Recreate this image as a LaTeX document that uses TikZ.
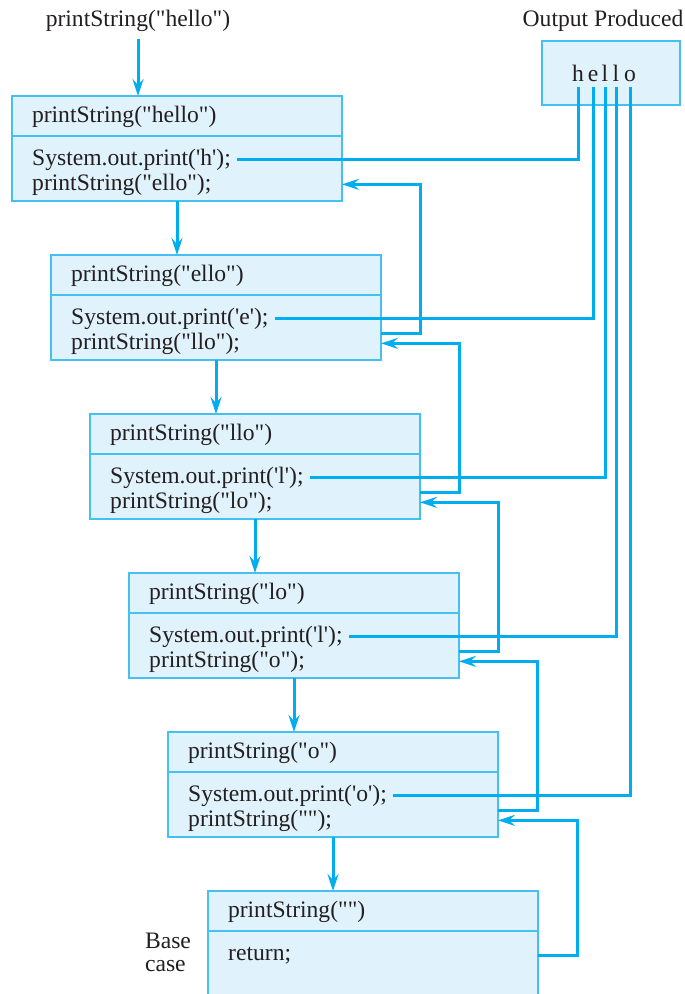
\documentclass[tikz,border=0pt]{standalone}
\usepackage{fontspec}
\setmainfont{Liberation Serif}[Ligatures=TeXOff]
\usepackage{tikz}
\usetikzlibrary{arrows.meta,positioning}
\definecolor{ink}{RGB}{35,31,32}
\definecolor{wire}{RGB}{0,174,239}
\definecolor{edge}{RGB}{70,192,240}
\definecolor{pale}{RGB}{224,242,251}
\newcommand{\codefont}{\fontsize{23.6}{25}\selectfont}
\tikzset{
  head/.style={draw=edge,fill=pale,line width=1.2pt,outer sep=0pt,anchor=north west,
    minimum width=330pt,minimum height=40pt,text width=290pt,inner xsep=20pt,inner ysep=0pt,
    text height=17pt,text depth=5pt,align=left,font=\codefont,text=ink},
  body/.style={draw=edge,fill=pale,line width=1.2pt,outer sep=0pt,
    minimum width=330pt,minimum height=65pt,inner sep=0pt},
  code/.style={anchor=base west,inner sep=0pt,font=\codefont,text=ink},
  letter/.style={anchor=base,inner xsep=0pt,inner ysep=6pt,font=\codefont,text=ink},
  outbox/.style={draw=edge,fill=pale,line width=1.2pt,minimum width=138pt,minimum height=64pt},
  arr/.style={-{Stealth[length=17pt,width=11pt,inset=6pt]},line width=3pt,wire},
  outl/.style={line width=3pt,wire,shorten <=6pt},
}
\begin{document}
\begin{tikzpicture}[x=1pt,y=1pt]
  \useasboundingbox (0,0) rectangle (685,-994);
  \clip (0,0) rectangle (685,-994);
  % first call and output panel
  \node[font=\codefont,text=ink] (call) at (138,-21) {printString("hello")};
  \node[font=\codefont,text=ink] (outlab) at (603,-21) {Output Produced};
  \node[outbox] (out) at (611,-73) {};
  \node[letter] (oh) at (578,-81) {h};
  \node[letter] (oe) at (593,-81) {e};
  \node[letter] (ol) at (605,-81) {l};
  \node[letter] (oll) at (616,-81) {l};
  \node[letter] (oo) at (630,-81) {o};
  % frames
  \node[head] (hd1) at (12,-96) {printString("hello")};
  \node[body,below=0pt of hd1] (bd1) {};
  \node[code] (pr1) at ([xshift=20pt,yshift=-29pt]bd1.north west) {System.out.print('h');};
  \node[code] (cl1) at ([xshift=20pt,yshift=-54pt]bd1.north west) {printString("ello");};
  \node[head] (hd2) at (51,-255) {printString("ello")};
  \node[body,below=0pt of hd2] (bd2) {};
  \node[code] (pr2) at ([xshift=20pt,yshift=-29pt]bd2.north west) {System.out.print('e');};
  \node[code] (cl2) at ([xshift=20pt,yshift=-54pt]bd2.north west) {printString("llo");};
  \node[head] (hd3) at (90,-414) {printString("llo")};
  \node[body,below=0pt of hd3] (bd3) {};
  \node[code] (pr3) at ([xshift=20pt,yshift=-29pt]bd3.north west) {System.out.print('l');};
  \node[code] (cl3) at ([xshift=20pt,yshift=-54pt]bd3.north west) {printString("lo");};
  \node[head] (hd4) at (129,-573) {printString("lo")};
  \node[body,below=0pt of hd4] (bd4) {};
  \node[code] (pr4) at ([xshift=20pt,yshift=-29pt]bd4.north west) {System.out.print('l');};
  \node[code] (cl4) at ([xshift=20pt,yshift=-54pt]bd4.north west) {printString("o");};
  \node[head] (hd5) at (168,-732) {printString("o")};
  \node[body,below=0pt of hd5] (bd5) {};
  \node[code] (pr5) at ([xshift=20pt,yshift=-29pt]bd5.north west) {System.out.print('o');};
  \node[code] (cl5) at ([xshift=20pt,yshift=-54pt]bd5.north west) {printString("");};
  \node[head] (hd6) at (208,-891) {printString("")};
  \node[body,below=0pt of hd6] (bd6) {};
  \node[code] (pr6) at ([xshift=20pt,yshift=-29pt]bd6.north west) {return;};
  \node[font=\fontsize{23.6}{23}\selectfont,text=ink,align=left] (base) at (168,-952) {Base\\case};
  % calls going down
  \draw[arr,shorten <=4pt] (call.south) -- (call.south |- hd1.north);
  \draw[arr] (bd1.south) -- (bd1.south |- hd2.north);
  \draw[arr] (bd2.south) -- (bd2.south |- hd3.north);
  \draw[arr] (bd3.south) -- (bd3.south |- hd4.north);
  \draw[arr] (bd4.south) -- (bd4.south |- hd5.north);
  \draw[arr] (bd5.south) -- (bd5.south |- hd6.north);
  % printed letters
  \draw[outl] (pr1.east) -| (oh.south);
  \draw[outl] (pr2.east) -| (oe.south);
  \draw[outl] (pr3.east) -| (ol.south);
  \draw[outl] (pr4.east) -| (oll.south);
  \draw[outl] (pr5.east) -| (oo.south);
  % returns
  \draw[arr] ([yshift=-38pt]bd2.north east) -- ++(39,0) |- (bd1.east |- cl1);
  \draw[arr] ([yshift=-38pt]bd3.north east) -- ++(39,0) |- (bd2.east |- cl2);
  \draw[arr] ([yshift=-38pt]bd4.north east) -- ++(39,0) |- (bd3.east |- cl3);
  \draw[arr] ([yshift=-38pt]bd5.north east) -- ++(39,0) |- (bd4.east |- cl4);
  \draw[arr] (bd6.east |- pr6) -- ++(39,0) |- (bd5.east |- cl5);
\end{tikzpicture}
\end{document}
